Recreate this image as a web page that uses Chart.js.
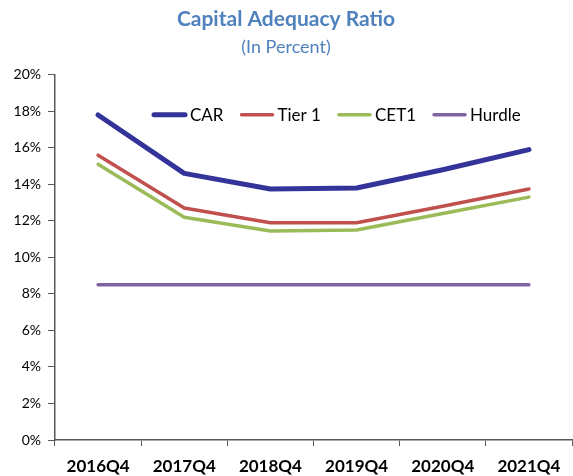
<!DOCTYPE html>
<html>
<head>
<meta charset="utf-8">
<script src="https://cdn.jsdelivr.net/npm/chart.js@4"></script>
<style>
  html, body { margin: 0; padding: 0; background: #fff; }
  #wrap { width: 573px; height: 476px; }
</style>
</head>
<body>
<div id="wrap"><canvas id="myChart"></canvas></div>
<script>
// categories and series
const labels = ['2016Q4', '2017Q4', '2018Q4', '2019Q4', '2020Q4', '2021Q4'];
const car = [17.8, 14.6, 13.75, 13.8, 14.8, 15.9];
const tier1 = [15.6, 12.7, 11.9, 11.9, 12.8, 13.75];
const cet1 = [15.1, 12.2, 11.45, 11.5, 12.4, 13.3];
const hurdle = [8.5, 8.5, 8.5, 8.5, 8.5, 8.5];

const FONT = 'Lato, "Open Sans", sans-serif';

function line(label, values, color, width) {
    return {
        label: label,
        data: values,
        borderColor: color,
        backgroundColor: color,
        borderWidth: width,
        pointRadius: 0,
        borderCapStyle: 'round',
        borderJoinStyle: 'round',
        tension: 0
    };
}

const data = {
    labels: labels,
    datasets: [
        line('CAR', car, '#333399', 5),
        line('Tier 1', tier1, '#C0504D', 3.5),
        line('CET1', cet1, '#9BBB59', 3.5),
        line('Hurdle', hurdle, '#8064A2', 3.5)
    ]
};

// legend sits inside the plot area, one row, like the original
const innerLegend = {
    id: 'innerLegend',
    afterDatasetsDraw(chart) {
        const ctx = chart.ctx;
        const area = chart.chartArea;
        let x = area.left + 97;
        const y = area.top + 40;
        ctx.save();
        ctx.font = '17px ' + FONT;
        ctx.textBaseline = 'middle';
        ctx.fillStyle = '#000';
        chart.data.datasets.forEach(function (ds) {
            ctx.strokeStyle = ds.borderColor;
            ctx.lineWidth = ds.borderWidth;
            ctx.lineCap = 'round';
            ctx.beginPath();
            ctx.moveTo(x + 2, y);
            ctx.lineTo(x + 33, y);
            ctx.stroke();
            x += 38;
            ctx.fillText(ds.label, x, y + 1);
            x += ctx.measureText(ds.label).width + 16;
        });
        ctx.restore();
    }
};

const config = {
    type: 'line',
    data: data,
    plugins: [innerLegend],
    options: {
        responsive: true,
        maintainAspectRatio: false,
        animation: false,
        layout: { padding: { left: 0, right: 1, top: 0, bottom: 0 } },
        plugins: {
            title: {
                display: true,
                text: 'Capital Adequacy Ratio',
                color: '#4F81BD',
                font: { family: FONT, size: 21, weight: 'bold' },
                padding: { top: 7, bottom: 0 }
            },
            subtitle: {
                display: true,
                text: '(In Percent)',
                color: '#4F81BD',
                font: { family: FONT, size: 18 },
                padding: { top: 4, bottom: 17 }
            },
            legend: { display: false },
            tooltip: { enabled: false }
        },
        scales: {
            x: {
                offset: true,
                afterFit: function (scale) { scale.height = 36; },
                grid: {
                    offset: true,
                    drawOnChartArea: false,
                    drawTicks: true,
                    tickLength: 6,
                    color: '#595959'
                },
                border: { color: '#595959', width: 1.5 },
                ticks: {
                    color: '#000',
                    padding: 10,
                    maxRotation: 0,
                    font: { family: FONT, size: 17, weight: 'bold' }
                }
            },
            y: {
                min: 0,
                max: 20,
                afterFit: function (scale) { scale.width = 55; },
                grid: {
                    drawOnChartArea: false,
                    drawTicks: true,
                    tickLength: 7,
                    color: '#595959'
                },
                border: { color: '#595959', width: 1.5 },
                ticks: {
                    stepSize: 2,
                    color: '#000',
                    padding: 7,
                    font: { family: FONT, size: 14 },
                    callback: function (v) { return v + '%'; }
                }
            }
        }
    }
};

const myChart = new Chart(document.getElementById('myChart'), config);
</script>
</body>
</html>
